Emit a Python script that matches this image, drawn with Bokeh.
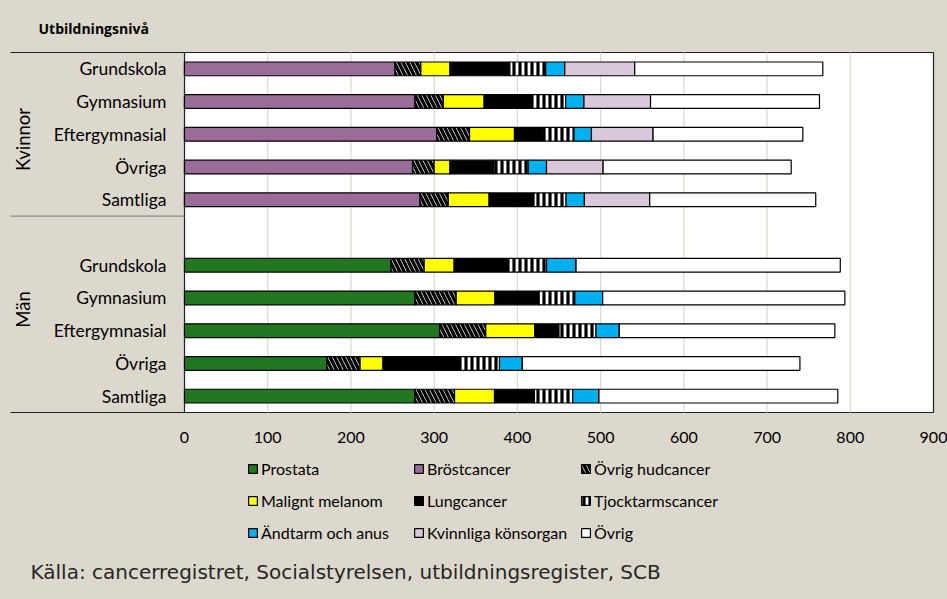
from math import pi
from bokeh.plotting import figure
from bokeh.models import ColumnDataSource, Legend, LegendItem, Range1d
from bokeh.transform import stack
from bokeh.core.properties import value
from bokeh.embed import file_html
from bokeh.resources import INLINE

# ---------------- data ----------------
education = ["Grundskola", "Gymnasium", "Eftergymnasial", "Övriga", "Samtliga"]
groups = ["Kvinnor", "Män"]
cancer_types = ["Prostata", "Bröstcancer", "Övrig hudcancer",
                "Malignt melanom", "Lungcancer", "Tjocktarmscancer",
                "Ändtarm och anus", "Kvinnliga könsorgan", "Övrig"]
x_ticks = [0, 100, 200, 300, 400, 500, 600, 700, 800, 900]

kvinnor_prostata = [0, 0, 0, 0, 0]
kvinnor_brost = [253, 277, 303, 274, 283]
kvinnor_hud = [31, 34, 39.5, 26, 34]
kvinnor_melanom = [35, 49, 54, 19, 49]
kvinnor_lung = [72, 58, 34.5, 53, 54]
kvinnor_tjock = [43, 40, 37, 41, 38.5]
kvinnor_andtarm = [23, 22, 21, 22, 22]
kvinnor_konsorgan = [84, 80, 74, 68, 78.5]
kvinnor_ovrig = [226, 203, 180, 226, 199.5]

man_prostata = [248, 277, 306.5, 171, 277]
man_brost = [0, 0, 0, 0, 0]
man_hud = [40, 49.5, 55.5, 40, 47.5]
man_melanom = [36, 46.5, 59, 27.5, 48]
man_lung = [63, 53, 29, 92, 48]
man_tjock = [48, 43, 44.5, 48, 46]
man_andtarm = [35.5, 33.5, 28, 27.5, 31.5]
man_konsorgan = [0, 0, 0, 0, 0]
man_ovrig = [317.5, 291, 259, 333.5, 287]

title_text = "Utbildningsnivå"
source_text = "Källa:  cancerregistret, Socialstyrelsen, utbildningsregister, SCB"

# ---------------- layout / styling ----------------
W, H = 947, 597
PL, PR, PT, PB = 184, 933, 52, 412          # plot-area edges in canvas pixels
BG = "#ddd8cd"
FONT = "Lato"
colors = ["#217821", "#9a6c9a", "#ffffff", "#ffff00", "#000000",
          "#ffffff", "#00b0f0", "#d8c8d9", "#ffffff"]
hatches = [None, None, "\\", None, None, "|", None, None, None]

x_max = x_ticks[-1]
n_slots = len(education) * 2 + 1
kx = x_max / (PR - PL)                      # data units per pixel (x)
ky = n_slots / (PB - PT)                    # data units per pixel (y)


def dx(px):
    return (px - PL) * kx


def dy(py):
    return (PB - py) * ky


keys = ["c%d" % i for i in range(len(cancer_types))]
kv_lists = [kvinnor_prostata, kvinnor_brost, kvinnor_hud, kvinnor_melanom, kvinnor_lung,
            kvinnor_tjock, kvinnor_andtarm, kvinnor_konsorgan, kvinnor_ovrig]
ma_lists = [man_prostata, man_brost, man_hud, man_melanom, man_lung,
            man_tjock, man_andtarm, man_konsorgan, man_ovrig]

y_kv = [n_slots - 0.5 - i for i in range(len(education))]
y_ma = [n_slots - 0.5 - (len(education) + 1) - i for i in range(len(education))]

data = {"y": y_kv + y_ma, "label": education + education}
for k, a, b in zip(keys, kv_lists, ma_lists):
    data[k] = list(a) + list(b)
source = ColumnDataSource(data)

p = figure(width=W, height=H,
           x_range=Range1d(dx(0), dx(W)), y_range=Range1d(dy(H), dy(0)),
           output_backend="svg", toolbar_location=None,
           x_axis_type=None, y_axis_type=None,
           min_border=0, min_border_left=0, min_border_right=0,
           min_border_top=0, min_border_bottom=0)
p.background_fill_color = BG
p.border_fill_color = BG
p.outline_line_color = None
p.xgrid.visible = False
p.ygrid.visible = False

# plot area
p.quad(left=[0], right=[x_max], bottom=[0], top=[n_slots],
       fill_color="white", line_color="#202020", line_width=1.2)

# vertical gridlines
grid_x = x_ticks[1:-1]
p.segment(x0=grid_x, x1=grid_x, y0=[0] * len(grid_x), y1=[n_slots] * len(grid_x),
          line_color="#dcd7cc", line_width=1.2)

# stacked bars
renderers = []
for i, k in enumerate(keys):
    kw = dict(fill_color=colors[i], line_color="black", line_width=1.2)
    if hatches[i] == "\\":
        kw.update(hatch_pattern="\\", hatch_color="black", hatch_scale=9, hatch_weight=3.4)
    elif hatches[i] == "|":
        kw.update(hatch_pattern="|", hatch_color="black", hatch_scale=6, hatch_weight=3.2)
    r = p.hbar(y="y", left=stack(*keys[:i]), right=stack(*keys[:i + 1]), height=0.42,
               source=source, **kw)
    renderers.append(r)

# category labels (left)
p.text(x=[dx(166)] * len(data["y"]), y=data["y"], text=data["label"],
       text_align="right", text_baseline="middle",
       text_font=value(FONT), text_font_size=value("17.5px"), text_color="black")

# x tick labels (below)
p.text(x=x_ticks, y=[dy(437)] * len(x_ticks), text=[str(t) for t in x_ticks],
       text_align="center", text_baseline="middle",
       text_font=value(FONT), text_font_size=value("16px"), text_color="black")

# group labels (rotated)
p.text(x=[dx(22), dx(22)], y=[dy(139), dy(309)], text=groups, angle=pi / 2,
       text_align="center", text_baseline="middle",
       text_font=value(FONT), text_font_size=value("18.5px"), text_color="black")

# separator lines in the label area
sep_y = [n_slots, len(education) + 1, 0]
p.segment(x0=[dx(10)] * 3, x1=[0] * 3, y0=sep_y, y1=sep_y,
          line_color=["#202020", "#8c8c8c", "#202020"], line_width=1.2)

# title and source
p.text(x=[dx(38)], y=[dy(28)], text=[title_text], text_align="left", text_baseline="middle",
       text_font=value("Open Sans"), text_font_style="bold", text_font_size=value("14px"),
       text_color="black")
p.text(x=[dx(30)], y=[dy(571)], text=[source_text], text_align="left", text_baseline="middle",
       text_font=value("DejaVu Sans"), text_font_size=value("20px"), text_color="#262626")

# legends: three columns
col_x = [247, 413, 580]
for c in range(3):
    idx = [c, c + 3, c + 6]
    items = [LegendItem(label=cancer_types[i], renderers=[renderers[i]]) for i in idx]
    leg = Legend(items=items, location=(col_x[c], H - 542), orientation="vertical",
                 background_fill_alpha=0, border_line_color=None,
                 glyph_width=11, glyph_height=11, label_standoff=3,
                 label_height=20, spacing=12, padding=0, margin=0,
                 label_text_font=FONT, label_text_font_size="16px", label_text_color="black")
    p.add_layout(leg, "center")

html = file_html(p, INLINE)
html = html.replace("<body>", '<body style="background-color:%s;">' % BG)
open("out.html", "w").write(html)
